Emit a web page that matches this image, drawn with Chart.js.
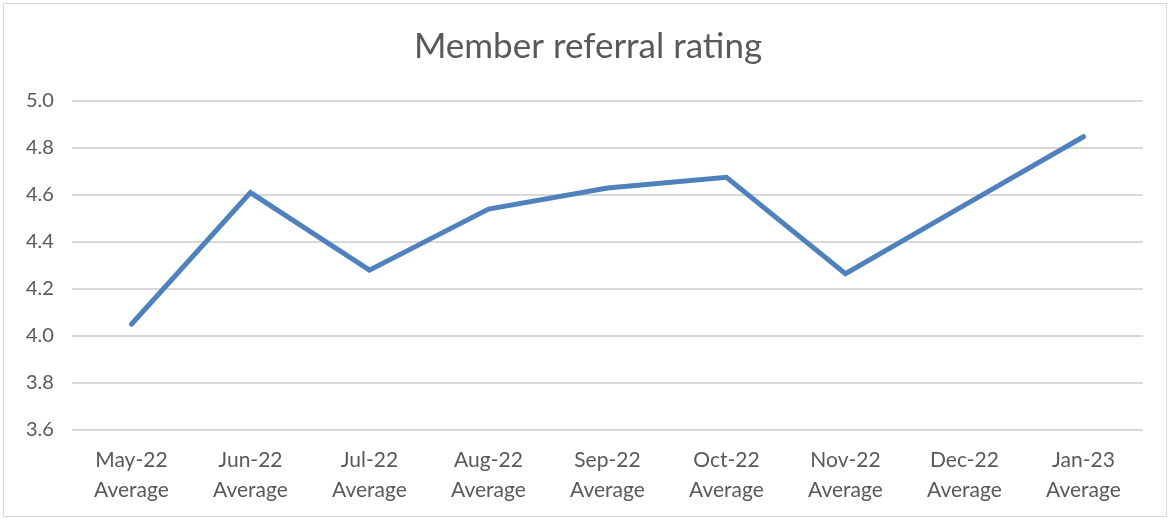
<!DOCTYPE html>
<html>
<head>
<meta charset="utf-8">
<script src="https://cdn.jsdelivr.net/npm/chart.js@4"></script>
<style>
  html, body { margin: 0; padding: 0; background: #fff; }
  #wrap { position: absolute; left: 3px; top: 3px; width: 1164px; height: 514px; border: 1px solid #d9d9d9; box-sizing: border-box; }
  canvas { display: block; }
</style>
</head>
<body>
<div id="wrap"><canvas id="rating" width="1164" height="514"></canvas></div>
<script>
// Member referral rating, monthly averages
const months = ['May-22', 'Jun-22', 'Jul-22', 'Aug-22', 'Sep-22', 'Oct-22', 'Nov-22', 'Dec-22', 'Jan-23'];
const ratings = [4.05, 4.61, 4.28, 4.54, 4.63, 4.675, 4.265, 4.557, 4.848];
const yTicks = [3.6, 3.8, 4.0, 4.2, 4.4, 4.6, 4.8, 5.0];

const labels = months.map(m => [m, 'Average']);
const ctx = document.getElementById('rating');

new Chart(ctx, {
  type: 'line',
  data: {
    labels: labels,
    datasets: [{
      label: 'Rating',
      data: ratings,
      borderColor: '#4f81bd',
      borderWidth: 5,
      pointRadius: 0,
      tension: 0,
      borderCapStyle: 'round',
      borderJoinStyle: 'miter'
    }]
  },
  options: {
    responsive: false,
    animation: false,
    layout: { padding: { left: 4, right: 0, top: 0, bottom: 6 } },
    plugins: {
      legend: { display: false },
      tooltip: { enabled: false },
      title: {
        display: true,
        text: 'Member referral rating',
        color: '#595959',
        font: { family: 'Lato, "Open Sans", sans-serif', size: 35, weight: 'normal' },
        padding: { top: 22, bottom: 33 }
      }
    },
    scales: {
      x: {
        offset: true,
        grid: { display: false },
        border: { display: false },
        ticks: {
          color: '#595959',
          font: { family: 'Lato, "Open Sans", sans-serif', size: 21, lineHeight: 1.43 },
          padding: 7,
          maxRotation: 0,
          autoSkip: false
        }
      },
      y: {
        min: 3.6,
        max: 5.0,
        afterBuildTicks: axis => { axis.ticks = yTicks.map(v => ({ value: v })); },
        grid: { color: '#d9d9d9', lineWidth: 2, drawTicks: false },
        border: { display: false },
        ticks: {
          color: '#595959',
          font: { family: 'Lato, "Open Sans", sans-serif', size: 20 },
          padding: 18,
          callback: v => Number(v).toFixed(1)
        }
      },
      // empty right margin so the title stays centred on the whole box
      yRight: {
        position: 'right',
        display: true,
        grid: { display: false, drawOnChartArea: false },
        border: { display: false },
        ticks: { display: false },
        afterFit: s => { s.width = 25; }
      }
    }
  }
});
</script>
</body>
</html>
